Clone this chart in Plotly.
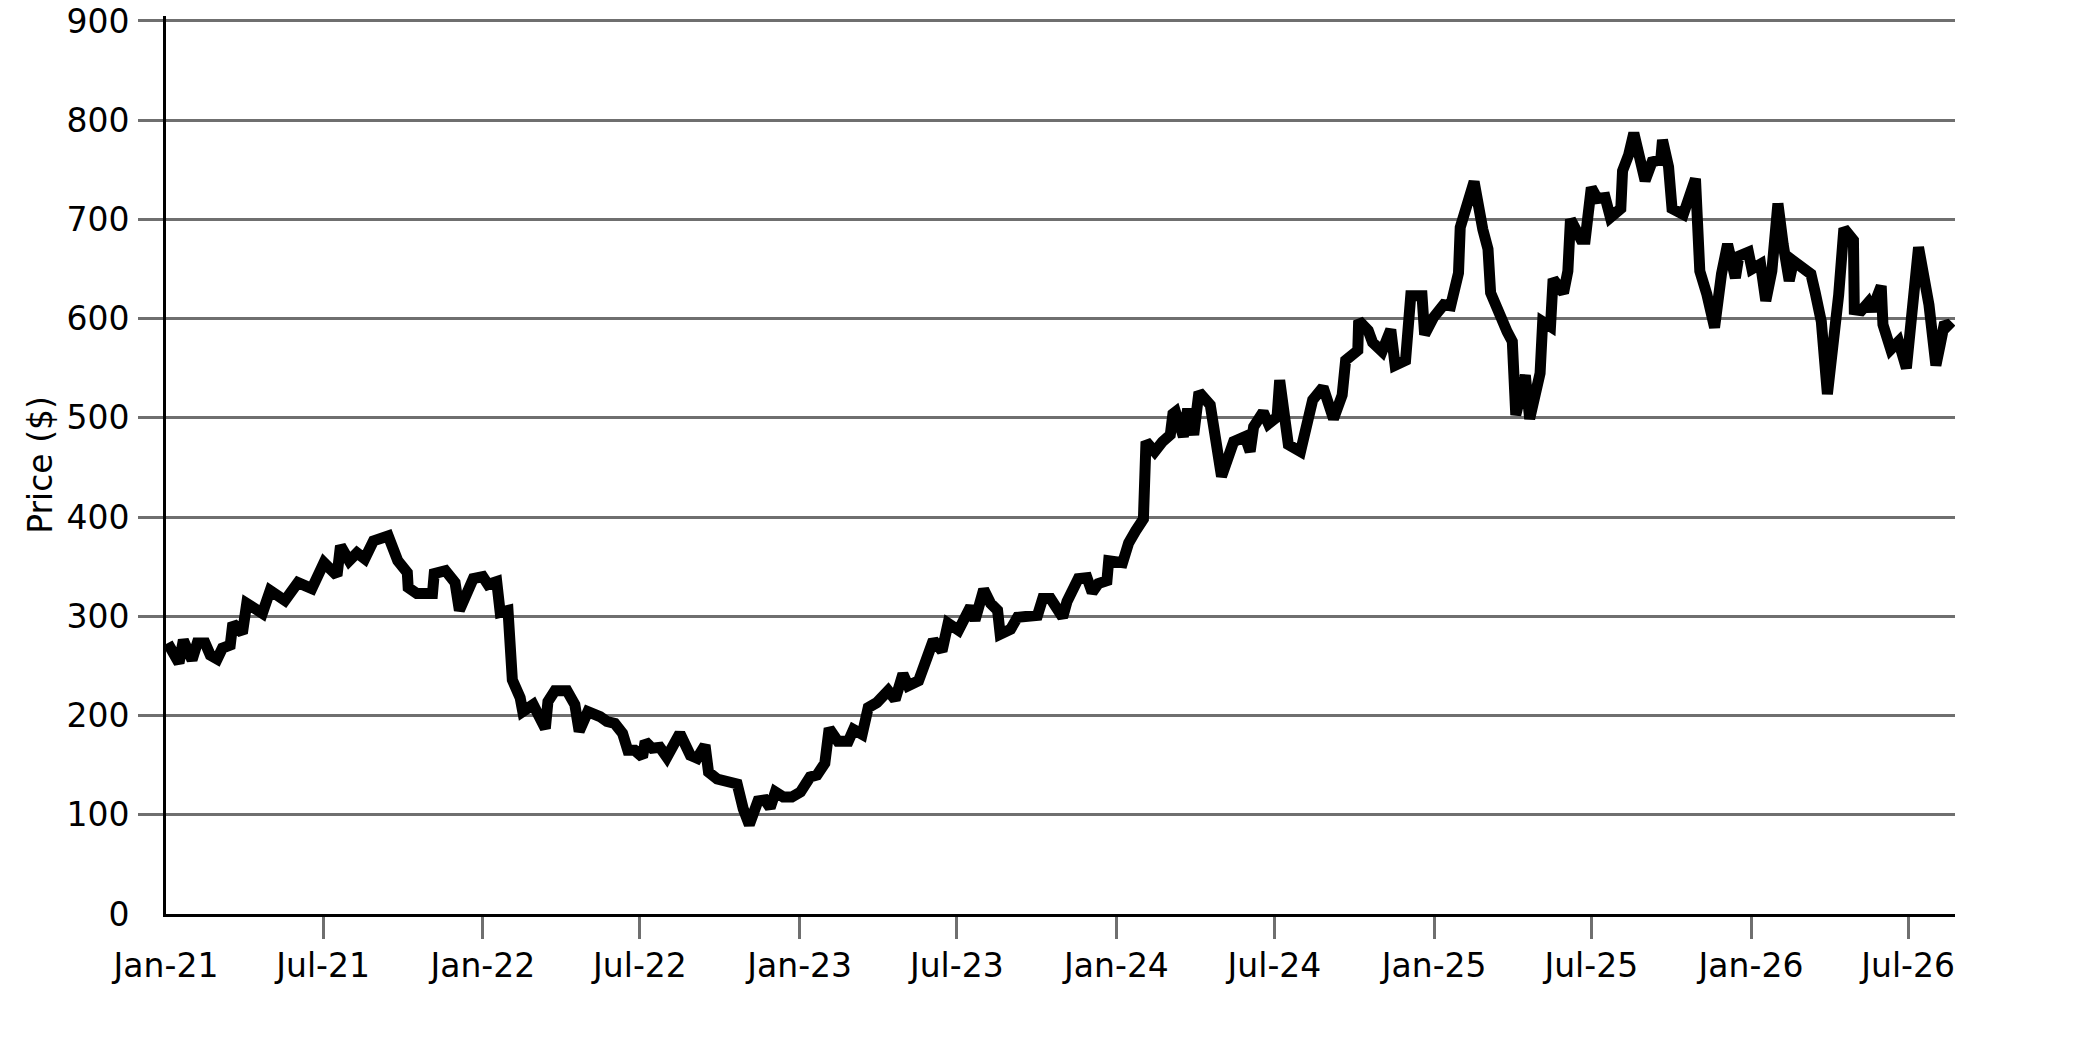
import pandas as pd
import plotly.graph_objects as go

###############################################################################
# Data (days counted from 1 Jan 2021)
###############################################################################
start_date = "2021-01-01"
end_date = "2026-08-24"

day_offset = [
    2, 15, 20, 30, 36, 45, 51, 59, 65, 74, 77, 88, 93, 111, 120, 137, 152, 168,
    182, 197, 201, 211, 220, 229, 239, 247, 256, 267, 278, 279, 289, 307, 309,
    322, 333, 338, 347, 354, 365, 371, 381, 385, 394, 399, 408, 411, 423, 437,
    440, 448, 462, 471, 476, 486, 500, 508, 517, 526, 532, 540, 549, 552, 560,
    569, 577, 592, 604, 612, 621, 625, 635, 646, 658, 665, 672, 682, 690, 696,
    702, 711, 721, 731, 742, 750, 759, 764, 774, 786, 792, 802, 809, 819, 832,
    840, 849, 855, 867, 877, 884, 894, 901, 913, 927, 932, 942, 950, 958, 961,
    973, 981, 1004, 1010, 1019, 1033, 1038, 1051, 1061, 1067, 1074, 1084, 1086,
    1102, 1109, 1117, 1126, 1129, 1139, 1148, 1157, 1160, 1163, 1172, 1177,
    1184, 1190, 1203, 1216, 1230, 1243, 1249, 1253, 1264, 1270, 1280, 1283,
    1293, 1307, 1321, 1333, 1345, 1355, 1359, 1373, 1374, 1385, 1390, 1401,
    1411, 1416, 1428, 1434, 1447, 1450, 1460, 1472, 1480, 1489, 1491, 1499,
    1507, 1517, 1523, 1526, 1535, 1545, 1551, 1555, 1566, 1571, 1583, 1586,
    1595, 1598, 1610, 1615, 1618, 1630, 1635, 1642, 1649, 1658, 1664, 1676,
    1678, 1685, 1691, 1699, 1704, 1712, 1722, 1724, 1731, 1735, 1748, 1762,
    1767, 1775, 1784, 1792, 1799, 1808, 1812, 1823, 1827, 1837, 1843, 1850,
    1857, 1863, 1870, 1875, 1884, 1895, 1900, 1907, 1914, 1923, 1927, 1933,
    1944, 1945, 1953, 1961, 1965, 1976, 1978, 1987, 1996, 2005, 2019, 2031,
    2039, 2044, 2049, 2057,
]

price = [
    273, 253, 276, 256, 273, 273, 261, 257, 268, 271, 293, 283, 313, 303, 326,
    316, 334, 328, 354, 341, 371, 356, 364, 358, 376, 378, 381, 356, 344, 329,
    323, 323, 343, 346, 334, 306, 328, 338, 340, 332, 335, 304, 306, 236, 218,
    204, 211, 187, 214, 225, 225, 211, 184, 204, 199, 194, 192, 182, 165, 165,
    158, 174, 167, 168, 158, 182, 160, 157, 170, 143, 136, 134, 131, 106, 90,
    114, 115, 107, 123, 118, 118, 123, 138, 140, 152, 187, 174, 174, 186, 181,
    208, 213, 225, 216, 242, 230, 235, 259, 276, 265, 293, 286, 310, 296, 327,
    313, 306, 282, 287, 299, 301, 318, 318, 299, 315, 338, 339, 324, 333, 336,
    356, 354, 374, 386, 398, 476, 466, 476, 483, 504, 506, 481, 509, 483, 526,
    513, 441, 476, 481, 466, 491, 506, 494, 501, 538, 473, 466, 518, 531, 499,
    523, 558, 568, 598, 588, 576, 567, 589, 553, 558, 623, 623, 584, 601, 614,
    613, 646, 692, 712, 738, 690, 670, 626, 604, 587, 577, 503, 543, 499, 545,
    597, 592, 640, 626, 648, 700, 680, 680, 732, 721, 722, 702, 711, 749, 765,
    787, 758, 739, 758, 760, 780, 753, 711, 705, 741, 648, 625, 591, 645, 675,
    641, 663, 667, 650, 655, 618, 648, 716, 675, 638, 658, 652, 645, 626, 597,
    524, 584, 624, 691, 679, 609, 608, 616, 608, 633, 594, 569, 577, 550, 672,
    614, 553, 574, 596, 589,
]

tick_dates = [
    "2021-01-01", "2021-07-01", "2022-01-01", "2022-07-01", "2023-01-01",
    "2023-07-01", "2024-01-01", "2024-07-01", "2025-01-01", "2025-07-01",
    "2026-01-01", "2026-07-01",
]
tick_labels = [
    "Jan-21", "Jul-21", "Jan-22", "Jul-22", "Jan-23", "Jul-23",
    "Jan-24", "Jul-24", "Jan-25", "Jul-25", "Jan-26", "Jul-26",
]
y_ticks = [0, 100, 200, 300, 400, 500, 600, 700, 800, 900]

###############################################################################
# Build the figure
###############################################################################
dates = pd.Timestamp(start_date) + pd.to_timedelta(day_offset, unit="D")

font_name = "DejaVu Sans"
grid_grey = "#6f6f6f"

fig = go.Figure()
fig.add_trace(go.Scatter(x=dates, y=price, mode="lines",
                         line=dict(color="black", width=11),
                         showlegend=False))

fig.update_layout(
    width=2083, height=1042,
    margin=dict(l=166, r=128, t=16, b=128, pad=0),
    paper_bgcolor="white", plot_bgcolor="white",
    font=dict(family=font_name, size=33, color="black"),
)

# the first tick on each axis has no tick mark, so marks are minor ticks
fig.update_xaxes(
    type="date", range=[start_date, end_date], automargin=False,
    showgrid=False, zeroline=False,
    showline=True, linecolor="black", linewidth=3,
    tickmode="array", tickvals=tick_dates, ticktext=tick_labels,
    ticks="", ticklabelstandoff=20, ticklabeloverflow="allow",
    tickfont=dict(family=font_name, size=33, color="black"),
    minor=dict(tickmode="array", tickvals=tick_dates[1:], ticks="outside",
               ticklen=22, tickwidth=3, tickcolor=grid_grey, showgrid=False),
)
fig.update_yaxes(
    range=[0, 905], automargin=False,
    showgrid=True, gridcolor=grid_grey, gridwidth=3, zeroline=False,
    showline=True, linecolor="black", linewidth=3,
    tickmode="array", tickvals=y_ticks,
    ticks="", ticklabelstandoff=27, ticklabeloverflow="allow",
    tickfont=dict(family=font_name, size=33, color="black"),
    minor=dict(tickmode="array", tickvals=y_ticks[1:], ticks="outside",
               ticklen=25, tickwidth=3, tickcolor=grid_grey, showgrid=False),
    title=dict(text="Price ($)", standoff=4,
               font=dict(family=font_name, size=33, color="black")),
)

# drop the page's default body margin so the figure sits at the window corner
fig.write_html("out.html", config={"displayModeBar": False},
               post_script="document.body.style.margin = '0';")
